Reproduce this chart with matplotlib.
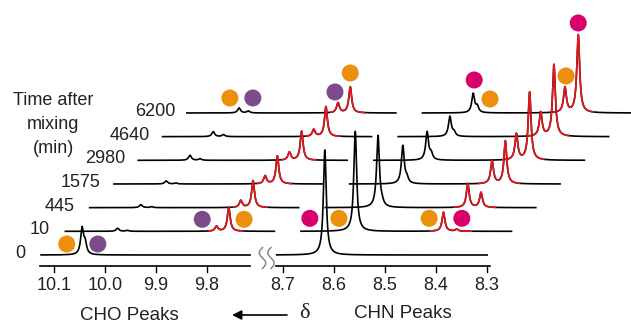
import numpy as np
import matplotlib
matplotlib.use("Agg")
import matplotlib.pyplot as plt

plt.rcParams['font.family'] = ['Liberation Sans', 'DejaVu Sans']

# ---------------- data ----------------
times = ["0", "10", "445", "1575", "2980", "4640", "6200"]

# starting-material aldehyde (CHO) peaks, black
sm_cho_ppm = [10.045, 10.023, 10.025, 10.023, 10.024, 10.026, 10.023]
sm_cho_h = [26, 3, 3, 3, 5, 5, 5]
sm_cho2_ppm = [10.039, 10.004, 10.004, 10.004, 10.004, 10.006, 10.005]
sm_cho2_h = [11, 1, 1, 1, 1.5, 2, 2]
# product aldehyde peaks, red
p_cho_ppm = [9.829, 9.805]
p_cho1_h = [0, 5, 7, 8, 8, 7, 10]
p_cho2_h = [0, 24, 27, 28, 29, 30, 26]
# starting-material imine (CHN) peak, black
sm_chn_ppm = [8.618, 8.606, 8.609, 8.608, 8.608, 8.611, 8.613]
sm_chn_h = [105, 100, 72, 38, 28, 20, 19]
sm_chn2_h = [0, 0, 3, 5, 6, 4, 6]
# product imine peaks, red
p_chn_ppm = [8.433, 8.407]
p_chn1_h = [0, 19, 24, 23, 26, 24, 25]
p_chn2_h = [0, 2, 15, 43, 68, 72, 78]

left_ticks = [10.1, 10.0, 9.9, 9.8]
right_ticks = [8.7, 8.6, 8.5, 8.4, 8.3]

# circle markers: ppm, spectrum row, height above baseline, colour key
marker_ppm = [10.075, 10.014, 9.857, 9.775, 8.695, 8.638, 8.461, 8.397,
              10.041, 9.996, 9.835, 9.805, 8.611, 8.580, 8.431, 8.407]
marker_row = [0, 0, 1, 1, 1, 1, 1, 1, 6, 6, 6, 6, 6, 6, 6, 6]
marker_h = [11, 11, 12, 12, 13, 13, 13, 13, 15, 15, 21, 40, 33, 14, 37, 90]
marker_key = ['o', 'p', 'p', 'o', 'm', 'o', 'o', 'm',
              'o', 'p', 'p', 'o', 'm', 'o', 'o', 'm']

# ---------------- style / layout ----------------
COL = {'o': '#EB8F0C', 'p': '#7D4B8B', 'm': '#D8006B'}
RED = '#E3171D'
PX_PER_PPM = 510.0
XL0, XR0 = 54.0, 283.0       # x of 10.1 and 8.7
Y0 = 255.0                   # baseline of first spectrum
DX, DY = 24.3, 23.67         # stacking offsets
GAM = 1.7 / PX_PER_PPM       # lorentzian half width
LEFT_RANGE = (10.127, 9.714)
RIGHT_RANGE = (8.714, 8.298)
RED_LEFT = (9.845, 9.776)
RED_RIGHT = (8.461, 8.377)


def ppm_to_x(ppm):
    ppm = np.asarray(ppm, float)
    return np.where(ppm > 9.2, XL0 + (10.1 - ppm) * PX_PER_PPM,
                    XR0 + (8.7 - ppm) * PX_PER_PPM)


def lor(p, p0, h):
    return h * GAM ** 2 / ((p - p0) ** 2 + GAM ** 2)


def spectrum(p, k):
    s = np.zeros_like(p)
    s += lor(p, sm_cho_ppm[k], sm_cho_h[k])
    s += lor(p, sm_cho2_ppm[k], sm_cho2_h[k])
    s += lor(p, p_cho_ppm[0], p_cho1_h[k])
    s += lor(p, p_cho_ppm[1], p_cho2_h[k])
    s += lor(p, sm_chn_ppm[k], sm_chn_h[k])
    s += lor(p, sm_chn_ppm[k] - 0.008, sm_chn2_h[k])
    s += lor(p, p_chn_ppm[0], p_chn1_h[k])
    s += lor(p, p_chn_ppm[1], p_chn2_h[k])
    return s


fig = plt.figure(figsize=(6.31, 3.22), dpi=100)
ax = fig.add_axes([0, 0, 1, 1])
ax.set_xlim(0, 631)
ax.set_ylim(322, 0)
ax.axis('off')

LW = 1.2
for k in range(len(times)):
    xo = k * DX
    yb = Y0 - k * DY
    z = 20 - k
    for (pa, pb), (ra, rb) in ((LEFT_RANGE, RED_LEFT), (RIGHT_RANGE, RED_RIGHT)):
        p = np.linspace(pa, pb, 4000)
        s = spectrum(p, k)
        x = ppm_to_x(p) + xo
        y = yb - s
        ax.plot(x, y, color='black', lw=LW, zorder=z, solid_capstyle='butt')
        if k > 0:
            m = (p <= ra) & (p >= rb)
            ax.plot(x[m], y[m], color=RED, lw=LW, zorder=z + 0.5,
                    solid_capstyle='butt')
    ax.text(25 + 25 * k, yb - 1.5, times[k], ha='right', va='center',
            fontsize=13, color='#222222')

# axis
AXY = 266.0
for (pa, pb), ticks in (((10.127, 9.716), left_ticks), ((8.714, 8.294), right_ticks)):
    ax.plot(ppm_to_x([pa, pb]), [AXY, AXY], color='black', lw=LW)
    for t in ticks:
        xt = float(ppm_to_x(t))
        ax.plot([xt, xt], [AXY, AXY + 5.5], color='black', lw=1.0)
        ax.text(xt, 285, f"{t:.1f}", ha='center', va='center', fontsize=13,
                color='#222222')

# break marks
tt = np.linspace(0, 1, 60)
for xc in (262.5, 271.0):
    ax.plot(xc - 3.2 * np.sin(2 * np.pi * tt), 247.5 + 21 * tt,
            color='#888888', lw=1.1, zorder=30)

# circles
for pp, r, h, c in zip(marker_ppm, marker_row, marker_h, marker_key):
    ax.scatter(float(ppm_to_x(pp)) + r * DX, Y0 - r * DY - h, s=150,
               color=COL[c], edgecolors='none', zorder=40)

# labels
for i, line in enumerate(["Time after", "mixing", "(min)"]):
    ax.text(53, 100 + 24 * i, line, ha='center', va='center', fontsize=13,
            color='#222222')
ax.text(129, 315, "CHO Peaks", ha='center', va='center', fontsize=13.5,
        color='#222222')
ax.text(403, 313, "CHN Peaks", ha='center', va='center', fontsize=13.5,
        color='#222222')
ax.annotate("", xy=(232, 315), xytext=(287, 315),
            arrowprops=dict(arrowstyle='-|>', color='black', lw=1.2,
                            mutation_scale=14, shrinkA=0, shrinkB=0))
ax.text(304, 313, "δ", ha='center', va='center', fontsize=16,
        color='#222222', family=['Liberation Serif', 'DejaVu Serif'])

fig.savefig("out.png", dpi=100)
